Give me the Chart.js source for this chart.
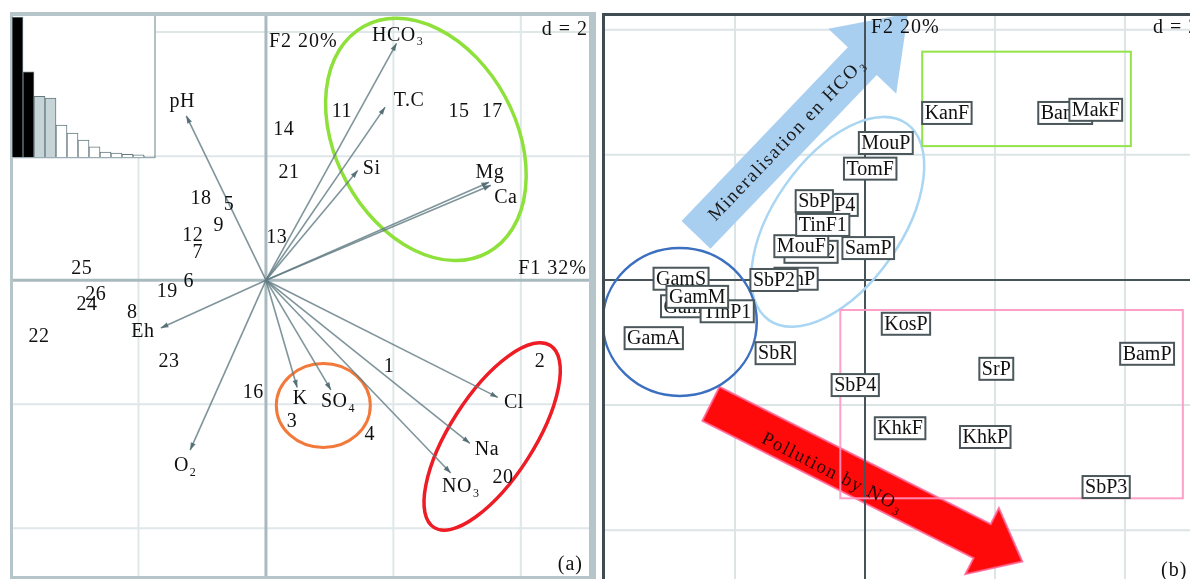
<!DOCTYPE html>
<html>
<head>
<meta charset="utf-8">
<script src="https://cdn.jsdelivr.net/npm/chart.js@4.4.0/dist/chart.umd.min.js"></script>
<style>
  html, body { margin: 0; padding: 0; background: #fff; }
  #wrap { position: relative; width: 1190px; height: 579px; overflow: hidden; }
  #chartA { position: absolute; left: 0; top: 0; }
  #chartB { position: absolute; left: 600px; top: 0; }
  #chartS { position: absolute; left: 12px; top: 15px; }
</style>
</head>
<body>
<div id="wrap">
  <canvas id="chartA" width="600" height="579"></canvas>
  <canvas id="chartB" width="590" height="579"></canvas>
  <canvas id="chartS" width="143" height="142"></canvas>
</div>
<script>
// ---------- (a) ACP : individus (numéros des points d'eau)
const obsLabels = ['1','2','3','4','5','6','7','8','9','11','12','13','14','15','16','17','18','19','20','21','22','23','24','25','26'];
const obsF1 = [1.93, 4.30, 0.41, 1.63, -0.58, -1.21, -1.07, -2.10, -0.74, 1.19, -1.15, 0.17, 0.28, 3.03, -0.20, 3.55, -1.02, -1.55, 3.72, 0.36, -3.56, -1.52, -2.81, -2.89, -2.67];
const obsF2 = [-1.40, -1.31, -2.29, -2.50, 1.21, -0.02, 0.44, -0.53, 0.87, 2.71, 0.71, 0.69, 2.42, 2.71, -1.82, 2.71, 1.32, -0.19, -3.19, 1.74, -0.92, -1.32, -0.39, 0.19, -0.24];

// ---------- (a) ACP : variables (flèches)
const varLabels = ['pH', 'HCO_3', 'T.C', 'Si', 'Mg', 'Ca', 'Eh', 'O_2', 'K', 'SO_4', 'Cl', 'Na', 'NO_3'];
const varF1 = [-1.25, 2.05, 1.87, 1.44, 3.50, 3.53, -1.65, -1.19, 0.49, 1.02, 3.64, 3.20, 2.90];
const varF2 = [2.65, 3.82, 2.79, 1.77, 1.58, 1.53, -0.77, -2.74, -1.73, -1.77, -1.89, -2.63, -3.11];

// ---------- (a) valeurs propres (%)
const valeursPropres = [32, 19.5, 13.9, 13.5, 7.3, 5.5, 3.9, 2.3, 1.1, 0.9, 0.6, 0.5, 0.2];

// ---------- (b) sites (ordre = ordre de dessin)
const siteLabels = ['TinP4', 'SbP', 'TinF2', 'MouF', 'TinF1', 'SamP', 'TomF', 'MouP', 'KanF', 'BamF', 'MakF', 'TinP', 'SbP2', 'GamS', 'GamV', 'TinP1', 'GamM', 'GamA', 'SbR', 'SbP4', 'KosP', 'SrP', 'BamP', 'KhkF', 'KhkP', 'SbP3'];
const siteF1 = [-0.52, -0.78, -0.83, -0.98, -0.65, 0.05, 0.08, 0.32, 1.26, 3.08, 3.55, -1.06, -1.40, -2.83, -2.69, -2.12, -2.58, -3.25, -1.38, -0.15, 0.63, 2.02, 4.34, 0.54, 1.85, 3.71];
const siteF2 = [1.20, 1.26, 0.45, 0.54, 0.88, 0.51, 1.78, 2.19, 2.67, 2.67, 2.72, 0.02, 0.00, 0.02, -0.42, -0.50, -0.27, -0.93, -1.17, -1.68, -0.70, -1.42, -1.18, -2.37, -2.51, -3.31];

const inertieF1 = 'F1 32%';
const inertieF2 = 'F2 20%';
const pasGrille = 2;

const SERIF = '"Liberation Serif", "Times New Roman", serif';

// décalage des étiquettes de variables par rapport à la pointe (px)
const decalVar = {
  'pH': [-4, -14], 'HCO_3': [1, -8], 'T.C': [24, -6], 'Si': [14, -2], 'Mg': [1, -9], 'Ca': [15, 12],
  'Eh': [-18, 4], 'O_2': [-5, 16], 'K': [3, 11], 'SO_4': [7, 12], 'Cl': [16, 5], 'Na': [17, 6], 'NO_3': [10, 14]
};

function trait(ctx, x0, y0, x1, y1) {
  ctx.beginPath(); ctx.moveTo(x0, y0); ctx.lineTo(x1, y1); ctx.stroke();
}

// texte avec indice : 'HCO_3'
function texteIndice(ctx, txt, x, y, taille, align) {
  const morceaux = txt.split('_');
  const base = morceaux[0], sub = morceaux[1];
  ctx.font = taille + 'px ' + SERIF;
  const wb = ctx.measureText(base).width;
  let ws = 0;
  const tSub = Math.round(taille * 0.6);
  if (sub) { ctx.font = tSub + 'px ' + SERIF; ws = ctx.measureText(sub).width + 1; }
  const x0 = align === 'center' ? x - (wb + ws) / 2 : (align === 'right' ? x - wb - ws : x);
  ctx.textAlign = 'left';
  ctx.textBaseline = 'middle';
  ctx.font = taille + 'px ' + SERIF;
  ctx.fillText(base, x0, y);
  if (sub) {
    ctx.font = tSub + 'px ' + SERIF;
    ctx.fillText(sub, x0 + wb + 1, y + taille * 0.32);
  }
}

function fleche(ctx, x0, y0, x1, y1) {
  trait(ctx, x0, y0, x1, y1);
  const a = Math.atan2(y1 - y0, x1 - x0), L = 8, w = 0.33;
  ctx.beginPath();
  ctx.moveTo(x1, y1);
  ctx.lineTo(x1 - L * Math.cos(a - w), y1 - L * Math.sin(a - w));
  ctx.lineTo(x1 - L * Math.cos(a + w), y1 - L * Math.sin(a + w));
  ctx.closePath();
  ctx.fill();
}

function grosseFleche(ctx, p0, pt, longTete, demiLarg, demiTete) {
  const dx = pt.x - p0.x, dy = pt.y - p0.y, L = Math.hypot(dx, dy);
  const ux = dx / L, uy = dy / L, nx = -uy, ny = ux;
  const bx = pt.x - ux * longTete, by = pt.y - uy * longTete;
  ctx.beginPath();
  ctx.moveTo(p0.x + nx * demiLarg, p0.y + ny * demiLarg);
  ctx.lineTo(bx + nx * demiLarg, by + ny * demiLarg);
  ctx.lineTo(bx + nx * demiTete, by + ny * demiTete);
  ctx.lineTo(pt.x, pt.y);
  ctx.lineTo(bx - nx * demiTete, by - ny * demiTete);
  ctx.lineTo(bx - nx * demiLarg, by - ny * demiLarg);
  ctx.lineTo(p0.x - nx * demiLarg, p0.y - ny * demiLarg);
  ctx.closePath();
}

function ellipse(ctx, chart, cx, cy, rx, ry, rot, couleur, ep) {
  const px = chart.scales.x.getPixelForValue(cx), py = chart.scales.y.getPixelForValue(cy);
  ctx.strokeStyle = couleur; ctx.lineWidth = ep;
  ctx.beginPath(); ctx.ellipse(px, py, rx, ry, rot, 0, Math.PI * 2); ctx.stroke();
}

function grille(ctx, chart, cGrille, wGrille) {
  const { chartArea: ca, scales: { x, y } } = chart;
  ctx.strokeStyle = cGrille; ctx.lineWidth = wGrille;
  for (let v = -4; v <= 4; v += pasGrille) {
    if (v === 0) continue;
    const px = x.getPixelForValue(v), py = y.getPixelForValue(v);
    if (px > ca.left + 2 && px < ca.right - 2) trait(ctx, px, ca.top, px, ca.bottom);
    if (py > ca.top + 2 && py < ca.bottom - 2) trait(ctx, ca.left, py, ca.right, py);
  }
}

function axes(ctx, chart, c, w) {
  const { chartArea: ca, scales: { x, y } } = chart;
  ctx.strokeStyle = c; ctx.lineWidth = w;
  const x0 = x.getPixelForValue(0), y0 = y.getPixelForValue(0);
  trait(ctx, x0, ca.top, x0, ca.bottom);
  trait(ctx, ca.left, y0, ca.right, y0);
}

// ------------------------------
// PANNEAU (a)
// ------------------------------
const pluginA = {
  id: 'dessinA',
  beforeDatasetsDraw(chart) {
    const { ctx, chartArea: ca } = chart;
    ctx.save();
    grille(ctx, chart, '#dfe7e9', 2);
    axes(ctx, chart, '#a9babf', 3);
    // cadre
    ctx.fillStyle = '#b5c5ca';
    ctx.fillRect(ca.left - 3, ca.top - 4, ca.right - ca.left + 10, 4);
    ctx.fillRect(ca.left - 3, ca.top - 4, 3, ca.bottom - ca.top + 8);
    ctx.fillRect(ca.right, ca.top - 4, 7, ca.bottom - ca.top + 8);
    ctx.fillRect(ca.left - 3, ca.bottom, ca.right - ca.left + 10, 3);
    // encart des valeurs propres
    ctx.fillStyle = '#fff';
    ctx.fillRect(ca.left, ca.top, 142, 141);
    ctx.strokeStyle = '#9aadb3'; ctx.lineWidth = 1.5;
    trait(ctx, ca.left + 142, ca.top, ca.left + 142, ca.top + 142);
    trait(ctx, ca.left, ca.top + 141.5, ca.left + 142, ca.top + 141.5);
    ctx.restore();
  },
  afterDatasetsDraw(chart) {
    const { ctx, chartArea: ca, scales: { x, y } } = chart;
    ctx.save();
    ctx.beginPath(); ctx.rect(ca.left, ca.top, ca.right - ca.left, ca.bottom - ca.top); ctx.clip();

    ellipse(ctx, chart, 2.51, 2.27, 90, 129, -0.5, '#8ee03a', 3.5);
    ellipse(ctx, chart, 0.90, -2.02, 47, 42, 0, '#f2793a', 3);
    ellipse(ctx, chart, 3.55, -2.52, 42, 108, 0.57, '#ee1c25', 3.5);

    // flèches des variables
    const ox = x.getPixelForValue(0), oy = y.getPixelForValue(0);
    ctx.strokeStyle = 'rgba(95,123,130,0.8)';
    ctx.fillStyle = 'rgba(80,105,112,0.9)';
    ctx.lineWidth = 1.6;
    const metaV = chart.getDatasetMeta(1);
    metaV.data.forEach(pt => fleche(ctx, ox, oy, pt.x, pt.y));

    ctx.fillStyle = '#111';
    ctx.letterSpacing = '0.5px';
    metaV.data.forEach((pt, i) => {
      const d = decalVar[varLabels[i]] || [0, 0];
      texteIndice(ctx, varLabels[i], pt.x + d[0], pt.y + d[1], 20, 'center');
    });

    // numéros des individus
    const metaO = chart.getDatasetMeta(0);
    ctx.font = '20px ' + SERIF;
    ctx.textAlign = 'center'; ctx.textBaseline = 'middle';
    metaO.data.forEach((pt, i) => ctx.fillText(obsLabels[i], pt.x, pt.y));

    // titres
    ctx.letterSpacing = '1px';
    ctx.font = '20px ' + SERIF;
    ctx.textAlign = 'left';
    ctx.fillText(inertieF2, ox + 3, ca.top + 26);
    ctx.textAlign = 'right';
    ctx.fillText('d = 2', ca.right - 1, ca.top + 14);
    ctx.fillText(inertieF1, ca.right - 2, oy - 11);
    ctx.fillText('(a)', ca.right - 6, ca.bottom - 11);
    ctx.restore();
  }
};

new Chart(document.getElementById('chartA'), {
  type: 'scatter',
  data: {
    datasets: [
      { label: 'individus', data: obsF1.map((v, i) => ({ x: v, y: obsF2[i] })), pointRadius: 0 },
      { label: 'variables', data: varF1.map((v, i) => ({ x: v, y: varF2[i] })), pointRadius: 0 }
    ]
  },
  options: {
    responsive: false, animation: false, events: [],
    layout: { padding: { left: 13, top: 16, right: 11, bottom: 3 } },
    plugins: { legend: { display: false }, tooltip: { enabled: false } },
    scales: {
      x: { type: 'linear', display: false, min: -3.97, max: 5.07 },
      y: { type: 'linear', display: false, min: -4.77, max: 4.26 }
    }
  },
  plugins: [pluginA]
});

// encart : histogramme des valeurs propres
new Chart(document.getElementById('chartS'), {
  type: 'bar',
  data: {
    labels: valeursPropres.map((v, i) => 'F' + (i + 1)),
    datasets: [{
      data: valeursPropres,
      backgroundColor: valeursPropres.map((v, i) => i < 2 ? '#000' : (i < 4 ? '#c6d3d7' : '#fff')),
      borderColor: '#667a80', borderWidth: 1,
      categoryPercentage: 1, barPercentage: 1
    }]
  },
  options: {
    responsive: false, animation: false, events: [],
    layout: { padding: 0 },
    plugins: { legend: { display: false }, tooltip: { enabled: false } },
    scales: { x: { display: false }, y: { display: false, min: 0, max: 32.5 } }
  }
});

// ------------------------------
// PANNEAU (b)
// ------------------------------
const pluginB = {
  id: 'dessinB',
  beforeDatasetsDraw(chart) {
    const { ctx, chartArea: ca, scales: { x, y } } = chart;
    ctx.save();
    ctx.beginPath(); ctx.rect(ca.left, ca.top, ca.right - ca.left, ca.bottom - ca.top); ctx.clip();
    grille(ctx, chart, '#dde4e6', 2);

    // flèche rouge : pollution
    const r0 = { x: x.getPixelForValue(-2.37), y: y.getPixelForValue(-1.98) };
    const r1 = { x: x.getPixelForValue(2.42), y: y.getPixelForValue(-4.50) };
    grosseFleche(ctx, r0, r1, 45, 19, 37);
    ctx.fillStyle = '#ff0a0a'; ctx.fill();
    ctx.strokeStyle = 'rgba(255,100,150,0.85)'; ctx.lineWidth = 2; ctx.stroke();

    // flèche bleue : minéralisation
    const b0 = { x: x.getPixelForValue(-2.60), y: y.getPixelForValue(0.72) };
    const b1 = { x: x.getPixelForValue(0.66), y: y.getPixelForValue(4.26) };
    grosseFleche(ctx, b0, b1, 66, 20, 47);
    ctx.fillStyle = '#a9cff0'; ctx.fill();

    axes(ctx, chart, '#46545a', 2);

    ellipse(ctx, chart, -0.42, 0.93, 120, 64, -0.96, '#a9d6f2', 2.5);
    ellipse(ctx, chart, -2.85, -0.67, 77, 74, 0, '#3b6fbf', 2.5);

    // rectangles
    ctx.lineWidth = 2;
    ctx.strokeStyle = '#93e34a';
    let xa = x.getPixelForValue(0.88), xb = x.getPixelForValue(4.09);
    let ya = y.getPixelForValue(3.65), yb = y.getPixelForValue(2.14);
    ctx.strokeRect(xa, ya, xb - xa, yb - ya);
    ctx.strokeStyle = 'rgba(255,150,195,0.9)';
    xa = x.getPixelForValue(-0.38); xb = x.getPixelForValue(4.89);
    ya = y.getPixelForValue(-0.48); yb = y.getPixelForValue(-3.49);
    ctx.strokeRect(xa, ya, xb - xa, yb - ya);

    // textes sur les flèches
    ctx.letterSpacing = '1.5px';
    ctx.fillStyle = '#1a1a1a';
    let ang = Math.atan2(b1.y - b0.y, b1.x - b0.x);
    ctx.save();
    ctx.translate(b0.x + (b1.x - b0.x) * 0.43, b0.y + (b1.y - b0.y) * 0.43);
    ctx.rotate(ang);
    texteIndice(ctx, 'Mineralisation en HCO_3', 0, 0, 19, 'center');
    ctx.restore();

    ctx.fillStyle = '#2a0505';
    ang = Math.atan2(r1.y - r0.y, r1.x - r0.x);
    ctx.save();
    ctx.translate(r0.x + (r1.x - r0.x) * 0.40, r0.y + (r1.y - r0.y) * 0.40);
    ctx.rotate(ang);
    texteIndice(ctx, 'Pollution by NO_3', 0, 7, 19, 'center');
    ctx.restore();
    ctx.restore();

    // cadre
    ctx.save();
    ctx.fillStyle = '#3f4d53';
    ctx.fillRect(ca.left - 3, ca.top - 3, ca.right - ca.left + 3, 3);
    ctx.fillRect(ca.left - 3, ca.top - 3, 3, ca.bottom - ca.top + 3);
    ctx.restore();
  },
  afterDatasetsDraw(chart) {
    const { ctx, chartArea: ca, scales: { x, y } } = chart;
    ctx.save();
    ctx.beginPath(); ctx.rect(ca.left, ca.top, ca.right - ca.left, ca.bottom - ca.top); ctx.clip();
    const meta = chart.getDatasetMeta(0);
    ctx.font = '20px ' + SERIF;
    ctx.textAlign = 'center'; ctx.textBaseline = 'middle';
    meta.data.forEach((pt, i) => {
      const w = ctx.measureText(siteLabels[i]).width + 5, h = 22;
      ctx.fillStyle = '#fff';
      ctx.fillRect(pt.x - w / 2, pt.y - h / 2, w, h);
      ctx.strokeStyle = '#4b575b'; ctx.lineWidth = 2;
      ctx.strokeRect(pt.x - w / 2, pt.y - h / 2, w, h);
      ctx.fillStyle = '#111';
      ctx.fillText(siteLabels[i], pt.x, pt.y + 1);
    });

    const ox = x.getPixelForValue(0);
    ctx.letterSpacing = '1px';
    ctx.font = '20px ' + SERIF;
    ctx.textAlign = 'left';
    ctx.fillText(inertieF2, ox + 6, ca.top + 12);
    ctx.fillText('d = 2', ca.right - 37, ca.top + 12);
    ctx.fillText('(b)', ca.right - 29, ca.bottom - 8);
    ctx.restore();
  }
};

new Chart(document.getElementById('chartB'), {
  type: 'scatter',
  data: {
    datasets: [
      { label: 'sites', data: siteF1.map((v, i) => ({ x: v, y: siteF2[i] })), pointRadius: 0 }
    ]
  },
  options: {
    responsive: false, animation: false, events: [],
    layout: { padding: { left: 5, top: 16, right: 0, bottom: 0 } },
    plugins: { legend: { display: false }, tooltip: { enabled: false } },
    scales: {
      x: { type: 'linear', display: false, min: -4.0, max: 5.0 },
      y: { type: 'linear', display: false, min: -4.78, max: 4.22 }
    }
  },
  plugins: [pluginB]
});
</script>
</body>
</html>
